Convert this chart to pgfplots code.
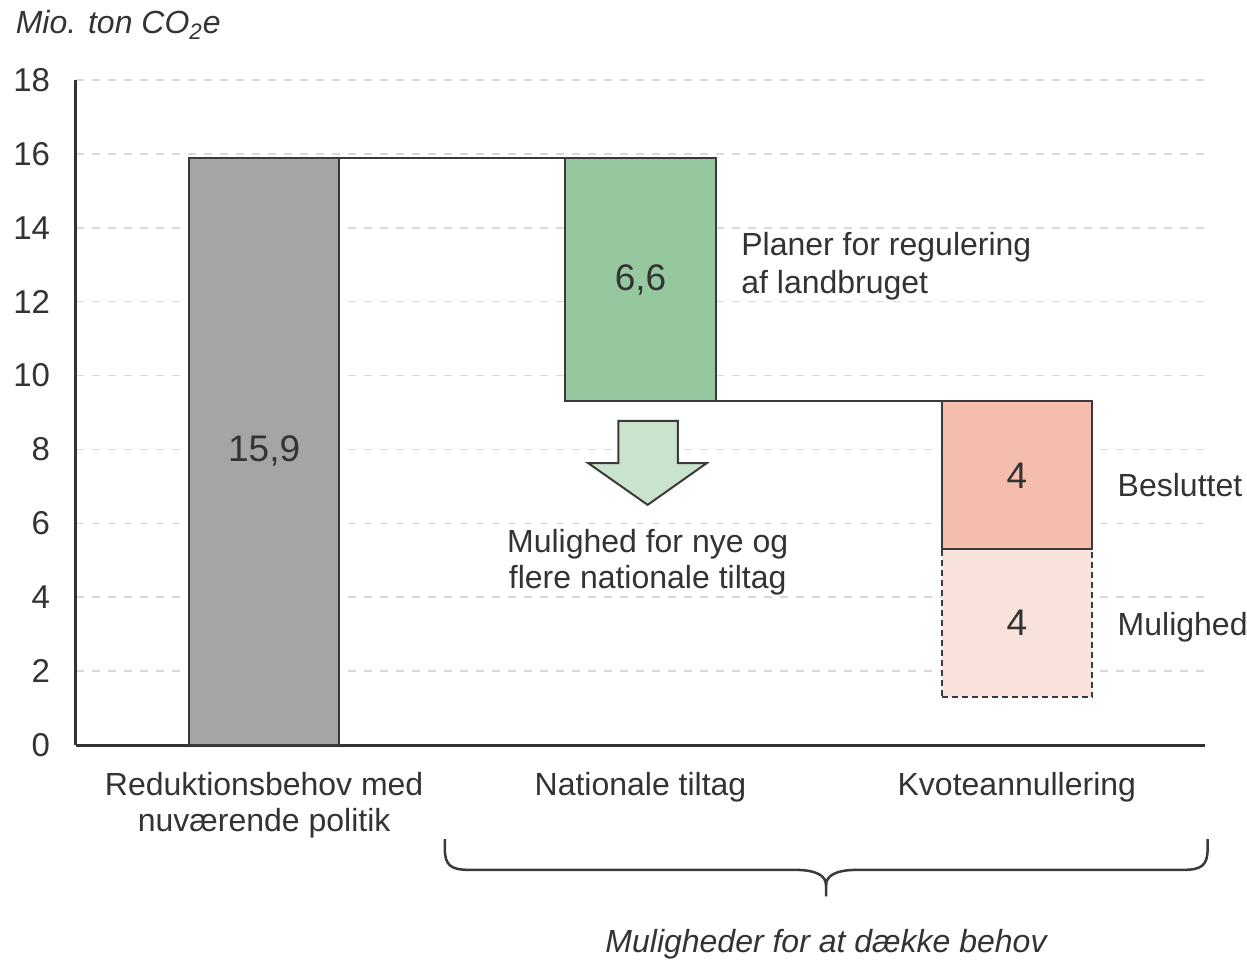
\documentclass[border=0pt]{standalone}
\usepackage{pgfplots}
\pgfplotsset{compat=1.18}
\usepackage{fontspec}
\setmainfont{Liberation Sans}
\definecolor{txt}{HTML}{333333}
\definecolor{edge}{HTML}{3A3A3A}
\definecolor{gridc}{HTML}{D9D9D9}
\definecolor{barGray}{HTML}{A5A5A5}
\definecolor{barGreen}{HTML}{96C8A0}
\definecolor{arrowc}{HTML}{C9E3CD}
\definecolor{barRed}{HTML}{F4BDAE}
\definecolor{barPink}{HTML}{F9E2DC}
\begin{document}
\begin{tikzpicture}
\useasboundingbox (-38bp,-107.5bp) rectangle (585.5bp,372.5bp);
\begin{axis}[
  at={(0,0)}, anchor=south west,
  scale only axis, width=564.5bp, height=332.5bp,
  xmin=-0.5, xmax=2.5, ymin=0, ymax=18,
  axis x line=bottom, axis y line=left,
  axis line style={-, draw=txt, line width=1.5bp},
  ytick={0,2,...,18}, xtick={0,1,2},
  xticklabels={{Reduktionsbehov med\\nuværende politik},{Nationale tiltag},{Kvoteannullering}},
  major tick length=0pt,
  ymajorgrids,
  major grid style={draw=gridc, dash pattern=on 4bp off 4bp, line width=0.75bp},
  tick label style={font=\fontsize{16.5bp}{18bp}\selectfont, text=txt},
  xticklabel style={font=\fontsize{16bp}{18bp}\selectfont, align=center, anchor=north, yshift=-10bp},
  yticklabel style={anchor=east, xshift=-9.5bp},
  /pgf/number format/assume math mode=true,
  clip=false,
]
% connector lines
\addplot[draw=edge, line width=1bp] coordinates {(0,15.9) (1,15.9)};
\addplot[draw=edge, line width=1bp] coordinates {(1,9.3) (2,9.3)};
% bars
\addplot[draw=edge, line width=1bp, fill=barGray] coordinates {(-0.2,0) (0.2,0) (0.2,15.9) (-0.2,15.9)} -- cycle;
\addplot[draw=edge, line width=1bp, fill=barGreen] coordinates {(0.8,9.3) (1.2,9.3) (1.2,15.9) (0.8,15.9)} -- cycle;
\addplot[draw=edge, line width=1bp, fill=barPink, dash pattern=on 3bp off 2bp] coordinates {(1.8,1.3) (2.2,1.3) (2.2,5.3) (1.8,5.3)} -- cycle;
\addplot[draw=edge, line width=1bp, fill=barRed] coordinates {(1.8,5.3) (2.2,5.3) (2.2,9.3) (1.8,9.3)} -- cycle;
% value labels
\node[text=txt, font=\fontsize{18.5bp}{22bp}\selectfont] at (axis cs:0,7.95) {15,9};
\node[text=txt, font=\fontsize{18.5bp}{22bp}\selectfont] at (axis cs:1,12.6) {6,6};
\node[text=txt, font=\fontsize{18.5bp}{22bp}\selectfont] at (axis cs:2,7.3) {4};
\node[text=txt, font=\fontsize{18.5bp}{22bp}\selectfont] at (axis cs:2,3.3) {4};
% arrow
\draw[draw=edge, line width=1bp, fill=arrowc, line join=miter]
  (axis cs:0.941,8.77) -- (axis cs:1.099,8.77) -- (axis cs:1.099,7.63) -- (axis cs:1.176,7.63)
  -- (axis cs:1.019,6.50) -- (axis cs:0.861,7.63) -- (axis cs:0.941,7.63) -- cycle;
% annotations
\node[anchor=west, align=left, inner sep=0pt, text=txt, font=\fontsize{16bp}{19bp}\selectfont]
  at (axis cs:1.267,12.97) {Planer for regulering\\af landbruget};
\node[align=center, inner sep=0pt, text=txt, font=\fontsize{16bp}{18bp}\selectfont]
  at (axis cs:1.019,4.95) {Mulighed for nye og\\flere nationale tiltag};
\node[anchor=west, inner sep=0pt, text=txt, font=\fontsize{16bp}{19bp}\selectfont]
  at (axis cs:2.267,7.04) {Besluttet};
\node[anchor=west, inner sep=0pt, text=txt, font=\fontsize{16bp}{19bp}\selectfont]
  at (axis cs:2.267,3.19) {Mulighed};
\node[anchor=west, inner sep=0pt, text=txt, font=\itshape\fontsize{16bp}{19bp}\selectfont]
  at (axis cs:-0.661,19.49) {Mio. ton CO\textsubscript{2}e};
% brace
\draw[draw=edge, line width=1.25bp]
  (axis cs:0.48,-2.55) -- (axis cs:0.48,-2.8)
  .. controls (axis cs:0.48,-3.25) and (axis cs:0.495,-3.38) .. (axis cs:0.545,-3.38)
  -- (axis cs:1.41,-3.38)
  .. controls (axis cs:1.47,-3.38) and (axis cs:1.493,-3.55) .. (axis cs:1.493,-3.8)
  -- (axis cs:1.493,-4.1);
\draw[draw=edge, line width=1.25bp]
  (axis cs:2.507,-2.55) -- (axis cs:2.507,-2.8)
  .. controls (axis cs:2.507,-3.25) and (axis cs:2.492,-3.38) .. (axis cs:2.442,-3.38)
  -- (axis cs:1.576,-3.38)
  .. controls (axis cs:1.516,-3.38) and (axis cs:1.493,-3.55) .. (axis cs:1.493,-3.8);
\node[text=txt, font=\itshape\fontsize{16bp}{19bp}\selectfont] at (axis cs:1.493,-5.4) {Muligheder for at dække behov};
\end{axis}
\end{tikzpicture}
\end{document}
